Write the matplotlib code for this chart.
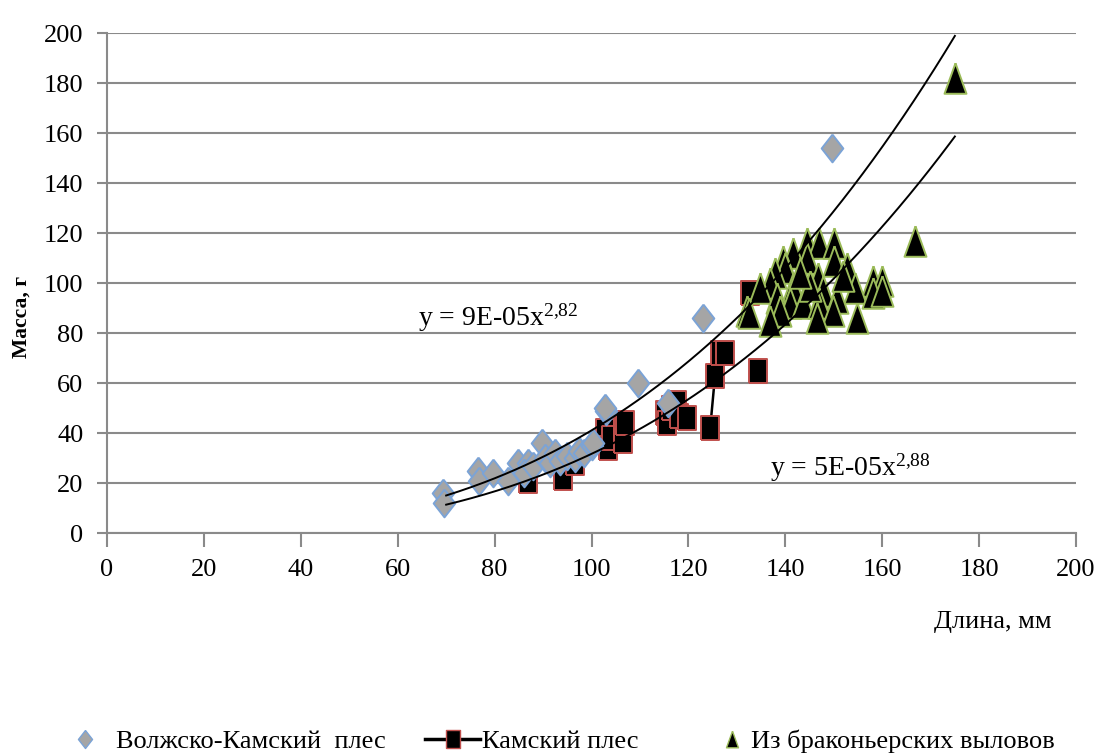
import matplotlib
matplotlib.use("Agg")
import matplotlib.pyplot as plt
from matplotlib.lines import Line2D
import numpy as np

plt.rcParams['font.family'] = ['Liberation Serif', 'DejaVu Serif']
plt.rcParams['mathtext.fontset'] = 'custom'
plt.rcParams['mathtext.rm'] = 'Liberation Serif'
plt.rcParams['mathtext.it'] = 'Liberation Serif'

# Волжско-Камский плес
vk_len = [69.3, 69.5, 76.6, 76.8, 79.7, 82.8, 84.8, 86.9, 86.0, 88.0, 89.8, 90.4, 91.5,
          92.5, 93.5, 95.0, 96.6, 97.5, 98.5, 100.0, 100.3, 103.0, 102.8, 109.6, 115.8,
          123.0, 149.6]
vk_mass = [16, 12, 25, 21, 24, 21, 28, 28, 24, 27, 36, 30, 28,
           32, 29, 31, 30, 33, 32, 35, 36, 49, 50, 60, 52,
           86, 154]

# Камский плес
k_len = [86.9, 94.1, 96.5, 102.8, 103.4, 104.0, 106.5, 106.5, 107.0, 115.2, 115.6, 116.5,
         117.6, 118.0, 119.7, 124.5, 125.5, 126.5, 127.6, 132.7, 134.4]
k_mass = [21, 22, 28, 41, 34, 38, 42, 37, 44, 48, 44, 50,
          52, 47, 46, 42, 63, 72, 72, 96, 65]
k_link = [15, 16]  # только этот отрезок линии виден

# Из браконьерских выловов
p_len = [175.0, 166.8, 144.5, 147.0, 150.0, 141.6, 144.5, 139.6, 140.0, 152.7, 137.9, 146.8,
         158.0, 160.0, 136.8, 134.8, 141.6, 154.4, 147.8, 158.0, 138.3, 150.7, 141.0, 143.7,
         147.0, 132.0, 139.0, 149.9, 132.5, 136.8, 146.5, 154.8, 160.0, 145.0, 143.0, 150.0,
         152.0]
p_mass = [182, 117, 116, 116, 116, 112, 110, 109, 106, 106, 104, 102,
          101, 101, 100, 98, 98, 98, 97, 96, 94, 94, 92, 92,
          92, 89, 89, 89, 88, 85, 86, 86, 97, 99, 104, 109,
          103]

# степенные линии тренда
trend_a = [9.4e-05, 5.5e-05]
trend_b = [2.82, 2.88]
trend_range = [70, 175]
trend_labels = ['y = 9E-05x$^{2{,}82}$', 'y = 5E-05x$^{2{,}88}$']
label_pos = [(64.2, 86), (136.8, 26)]

W, H = 1099, 756
fig = plt.figure(figsize=(W / 100, H / 100), dpi=100)
ax = fig.add_axes([107 / W, 1 - 533 / H, (1076 - 107) / W, (533 - 33) / H])

grey = '#8a8a8a'
diamond = [(0, 1), (0.78, 0), (0, -1), (-0.78, 0), (0, 1)]
square = [(-0.78, -1), (0.78, -1), (0.78, 1), (-0.78, 1), (-0.78, -1)]
triangle = [(0, 1), (0.72, -1), (-0.72, -1), (0, 1)]

ax.plot(np.array(k_len)[k_link], np.array(k_mass)[k_link], color='black', lw=1.8, zorder=3)
ax.plot(k_len, k_mass, ls='none', marker=square, ms=17, mfc='black', mec='#C0504D',
        mew=1.4, zorder=3)
ax.plot(vk_len, vk_mass, ls='none', marker=diamond, ms=20, mfc='#A5A5A5', mec='#7BA3D6',
        mew=1.4, zorder=4)
ax.plot(p_len, p_mass, ls='none', marker=triangle, ms=22, mfc='black', mec='#9BBB59',
        mew=1.4, zorder=4)

xs = np.linspace(trend_range[0], trend_range[1], 200)
for a, b, lab, pos in zip(trend_a, trend_b, trend_labels, label_pos):
    ax.plot(xs, a * xs ** b, color='black', lw=1.4, zorder=5)
    ax.text(pos[0], pos[1], lab, fontsize=20, va='center', ha='left')

ax.set_xlim(0, 200)
ax.set_ylim(0, 200)
ax.set_xticks(np.arange(0, 201, 20))
ax.set_yticks(np.arange(0, 201, 20))
ax.grid(axis='y', color=grey, lw=1.5, zorder=0)
ax.set_axisbelow(True)
for s in ['top', 'right']:
    ax.spines[s].set_visible(False)
for s in ['left', 'bottom']:
    ax.spines[s].set_color(grey)
    ax.spines[s].set_linewidth(1.5)
ax.tick_params(axis='x', direction='out', length=10, width=1.5, color=grey, labelsize=19, pad=9)
ax.tick_params(axis='y', direction='out', length=7, width=1.5, color=grey, labelsize=19, pad=10)

fig.text(22 / W, 1 - 317 / H, 'Масса, г', rotation=90, fontsize=15.5, fontweight='bold',
         ha='center', va='center')
fig.text(993 / W, 1 - 622 / H, 'Длина, мм', fontsize=19, ha='center', va='center')

h1 = Line2D([], [], ls='none', marker=diamond, ms=13, mfc='#A5A5A5', mec='#7BA3D6', mew=1)
h2 = Line2D([], [], color='black', lw=2.5, marker=square, ms=13, mfc='black', mec='#C0504D', mew=1)
h3 = Line2D([], [], ls='none', marker=triangle, ms=12, mfc='black', mec='#9BBB59', mew=1)
ly = 1 - 741 / H
for h, lab, x0, hl, tp in [(h1, 'Волжско-Камский  плес', 70, 1.1, 0.64),
                           (h2, 'Камский плес', 425, 2.1, 0.05),
                           (h3, 'Из браконьерских выловов', 719, 1.0, 0.2)]:
    fig.legend([h], [lab], loc='center left', bbox_to_anchor=(x0 / W, ly), frameon=False,
               fontsize=19, handlelength=hl, handletextpad=tp, borderpad=0, borderaxespad=0)

fig.savefig('out.png', dpi=100)
